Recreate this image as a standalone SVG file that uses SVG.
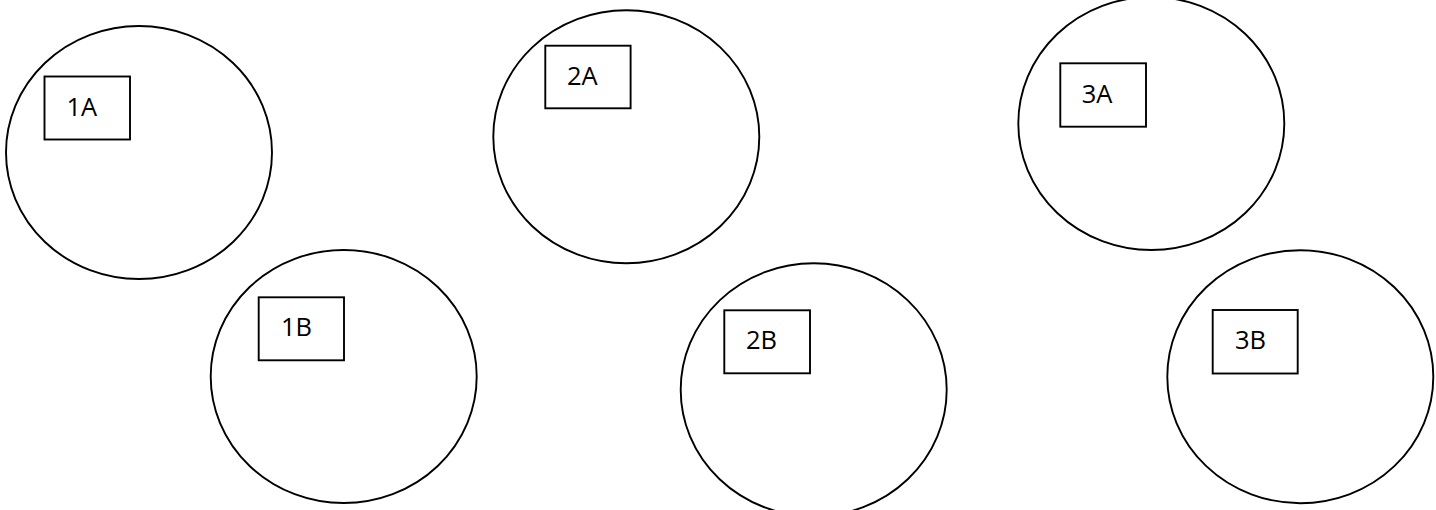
<svg xmlns="http://www.w3.org/2000/svg" width="1436" height="510" viewBox="0 0 1436 510">
  <style>
    .zone { fill: none; stroke: #000; stroke-width: 1.9; }
    .tag { fill: #fff; stroke: #000; stroke-width: 1.9; }
    .lbl { font-family: "Open Sans", "Noto Sans", sans-serif; font-size: 25.5px; fill: #000; }
  </style>
  <rect width="1436" height="510" fill="#fff"/>

  <g id="node-1A">
    <ellipse class="zone" cx="139" cy="152.5" rx="133" ry="126.5"/>
    <rect class="tag" x="44.5" y="76.5" width="85.5" height="63"/>
    <text class="lbl" x="66.5" y="115.5">1A</text>
  </g>

  <g id="node-1B">
    <ellipse class="zone" cx="343.7" cy="376.5" rx="133" ry="126.5"/>
    <rect class="tag" x="258.7" y="297.3" width="85.3" height="63"/>
    <text class="lbl" x="281" y="336">1B</text>
  </g>

  <g id="node-2A">
    <ellipse class="zone" cx="626.3" cy="136.8" rx="133" ry="126.5"/>
    <rect class="tag" x="545.3" y="45.7" width="85.3" height="62.6"/>
    <text class="lbl" x="567" y="84.8">2A</text>
  </g>

  <g id="node-2B">
    <ellipse class="zone" cx="813.7" cy="389.8" rx="133" ry="126.5"/>
    <rect class="tag" x="724.3" y="310.3" width="85.7" height="63"/>
    <text class="lbl" x="746" y="349">2B</text>
  </g>

  <g id="node-3A">
    <ellipse class="zone" cx="1151.3" cy="123.5" rx="133" ry="126.5"/>
    <rect class="tag" x="1060.3" y="63.3" width="85.7" height="63.4"/>
    <text class="lbl" x="1081.7" y="103">3A</text>
  </g>

  <g id="node-3B">
    <ellipse class="zone" cx="1300.3" cy="376.7" rx="133" ry="126.5"/>
    <rect class="tag" x="1212.7" y="310" width="85" height="63.5"/>
    <text class="lbl" x="1235" y="348.5">3B</text>
  </g>

  <g id="connectors"/>
</svg>
